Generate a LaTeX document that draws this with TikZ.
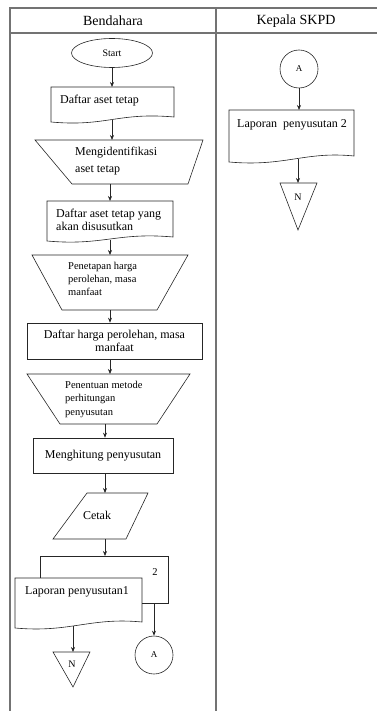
\documentclass[tikz,border=0pt]{standalone}
\usepackage{fontspec}
\setmainfont{Liberation Serif}
\usetikzlibrary{arrows.meta,shapes.geometric,calc}
\begin{document}
\begin{tikzpicture}[x=1pt,y=-1pt,
  shp/.style={draw=black!85,line width=0.6pt},
  lane/.style={draw=black!55,line width=1.1pt},
  arr/.style={draw=black!85,line width=0.6pt,-{Stealth[length=5pt,width=4pt]}},
  txt/.style={inner sep=0pt,anchor=west,font=\fontsize{12}{14}\selectfont,align=left},
  mtxt/.style={inner sep=0pt,anchor=north west,align=left},
  conn/.style={shp,circle,minimum size=38pt,inner sep=0pt,font=\fontsize{9}{10}\selectfont},
  hdr/.style={font=\fontsize{14}{16}\selectfont,inner sep=0pt}
]
\useasboundingbox (0,0) rectangle (377,711);
% swimlane table
\draw[lane] (10,711) -- (10,8) -- (377,8);
\draw[lane] (10,33) -- (377,33);
\draw[lane] (216,8) -- (216,711);
\node[hdr] (h1) at (113,21) {Bendahara};
\node[hdr] (h2) at (296,21) {Kepala SKPD};

% Start
\node[shp,ellipse,minimum width=81pt,minimum height=29pt,inner sep=0pt,font=\fontsize{10}{12}\selectfont] (start) at (112,53) {Start};

% Document 1
\draw[shp] (51,87) -- (174,87) -- (174,117) .. controls (118,112) and (106,127) .. (51,122) -- cycle;
\coordinate (d1t) at (112,87);
\coordinate (d1b) at (112,120);
\node[txt] (d1x) at (60,101) {Daftar aset tetap};

% Manual op 1
\draw[shp] (35,140) -- (203,140) -- (188,184) -- (72,184) -- cycle;
\coordinate (t1t) at (112,140);
\coordinate (t1b) at (110,184);
\node[mtxt,font=\fontsize{12}{17}\selectfont] (t1x) at (75,147) {Mengidentifikasi\\aset tetap};

% Document 2
\draw[shp] (47,201) -- (173,201) -- (173,237) .. controls (117,232) and (103,246) .. (47,241) -- cycle;
\coordinate (d2t) at (110,201);
\coordinate (d2b) at (110,239.5);
\node[mtxt,font=\fontsize{12}{13}\selectfont] (d2x) at (56,209) {Daftar aset tetap yang\\akan disusutkan};

% Manual op 2
\draw[shp] (32,255) -- (188,255) -- (157,310) -- (62,310) -- cycle;
\coordinate (t2t) at (110,255);
\coordinate (t2b) at (110,310);
\node[mtxt,font=\fontsize{10.5}{13}\selectfont] (t2x) at (68,262) {Penetapan harga\\perolehan, masa\\manfaat};

% Process 3
\node[shp,minimum width=175pt,minimum height=36pt,align=center,font=\fontsize{12}{13}\selectfont] (r3) at (114.5,341) {Daftar harga perolehan, masa\\manfaat};

% Manual op 3
\draw[shp] (27,374) -- (190,374) -- (157,424) -- (60,424) -- cycle;
\coordinate (t3t) at (110,374);
\coordinate (t3b) at (105,424);
\node[mtxt,font=\fontsize{10.5}{13.5}\selectfont] (t3x) at (65,381) {Penentuan metode\\perhitungan\\penyusutan};

% Process 4
\node[shp,minimum width=140pt,minimum height=35pt,font=\fontsize{12}{14}\selectfont] (r4) at (103,455.5) {Menghitung penyusutan};

% Output parallelogram
\draw[shp] (87,493) -- (148,493) -- (126,539) -- (53,539) -- cycle;
\coordinate (pt) at (105,493);
\coordinate (pb) at (105,539);
\node[font=\fontsize{12}{14}\selectfont,inner sep=0pt] (px) at (97,515) {Cetak};

% Multi document
\draw[shp] (40,578) -- (40,556) -- (168,556) -- (168,603) -- (142,603);
\coordinate (m2t) at (105,556);
\coordinate (m2b) at (154,603);
\node[font=\fontsize{10.5}{12}\selectfont,inner sep=0pt] (m2x) at (155,572) {2};
\draw[shp] (15,578) -- (142,578) -- (142,622) .. controls (90,617) and (70,633) .. (15,628) -- cycle;
\coordinate (m1b) at (73,626);
\node[txt] (m1x) at (25,592) {Laporan penyusutan1};

% Terminator N (left)
\draw[shp] (53,652) -- (90,652) -- (73,687) -- cycle;
\coordinate (n1t) at (73,652);
\node[font=\fontsize{10}{12}\selectfont,inner sep=0pt] (n1x) at (72,664) {N};

% Connector A (left)
\node[conn] (a1) at (154,655) {A};

% Right lane
\node[conn] (a2) at (299,69) {A};
\draw[shp] (229,110) -- (354,110) -- (354,156) .. controls (305,151) and (285,167) .. (229,162) -- cycle;
\coordinate (d3t) at (299,110);
\coordinate (d3b) at (298,159);
\node[txt] (d3x) at (237,125) {Laporan~ penyusutan 2};
\draw[shp] (280,183) -- (317,183) -- (298,230) -- cycle;
\coordinate (n2t) at (298,183);
\node[font=\fontsize{10}{12}\selectfont,inner sep=0pt] (n2x) at (298,197) {N};

% Arrows
\draw[arr] (start.south) -- (d1t);
\draw[arr] (d1b) -- (t1t);
\draw[arr] (t1b) -- (d2t);
\draw[arr] (d2b) -- (t2t);
\draw[arr] (t2b) -- (r3.north -| t2b);
\draw[arr] (r3.south -| t3t) -- (t3t);
\draw[arr] (t3b) -- (r4.north -| t3b);
\draw[arr] (r4.south -| pt) -- (pt);
\draw[arr] (pb) -- (m2t);
\draw[arr] (m1b) -- (n1t);
\draw[arr] (m2b) -- (a1.north);
\draw[arr] (a2.south) -- (d3t);
\draw[arr] (d3b) -- (n2t);
\end{tikzpicture}
\end{document}
